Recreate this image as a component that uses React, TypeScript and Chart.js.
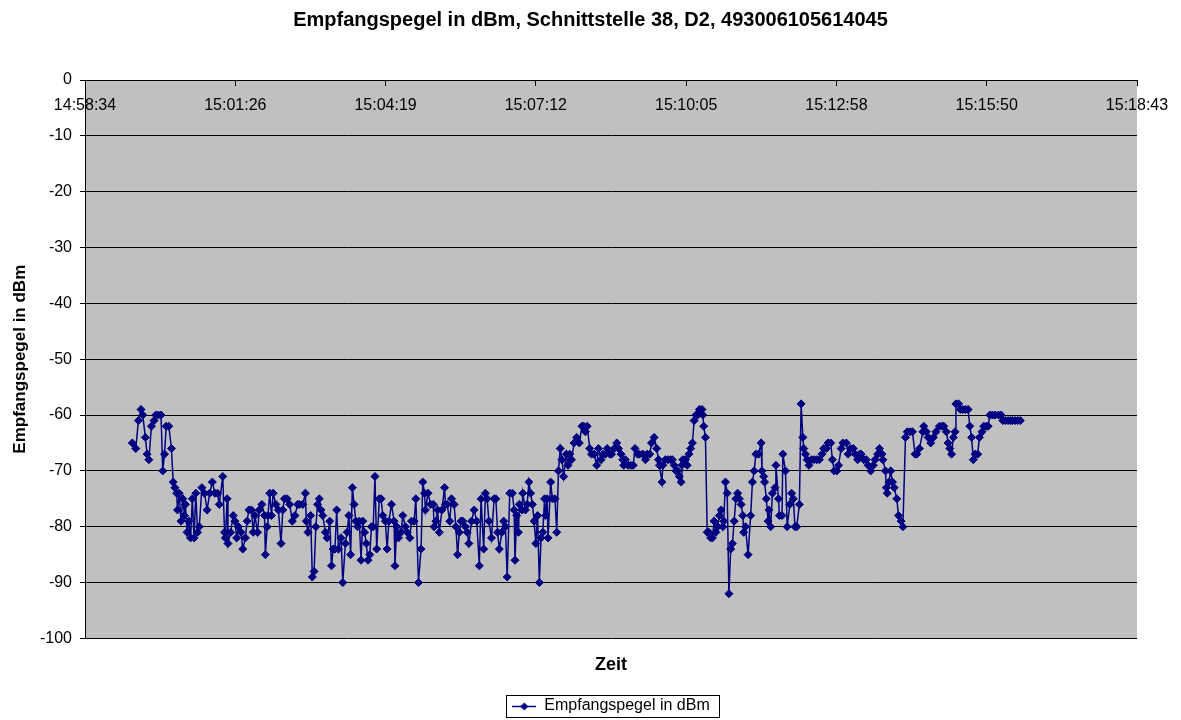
import React, { useEffect, useRef } from "react";
import { Chart, registerables } from "chart.js";

Chart.register(...registerables);

const chartTitle = "Empfangspegel in dBm, Schnittstelle 38, D2, 493006105614045";
const seriesName = "Empfangspegel in dBm";
const xAxisTitle = "Zeit";
const yAxisTitle = "Empfangspegel in dBm";

// time axis: 14:58:34 .. 15:18:43, major unit 0.002 day (172.8 s)
const xTickLabels = ["14:58:34", "15:01:26", "15:04:19", "15:07:12", "15:10:05", "15:12:58", "15:15:50", "15:18:43"];
const xAxisStartSec = -0.4; // 14:58:33.6 relative to 14:58:34
const xMajorUnitSec = 172.8;

// seconds elapsed since 14:58:34
const elapsedSeconds = [
  54, 58, 61, 64, 66, 69, 71, 73, 76, 79, 81, 84, 87, 89, 91, 93, 96, 99, 101, 103, 105, 106, 108, 110, 112, 114, 115, 117, 119, 121, 123, 125, 127, 129, 131, 134, 137, 140, 143, 146, 149,
  152, 154, 158, 160, 161, 163, 164, 167, 170, 172, 174, 176, 179, 181, 184, 186, 188, 191, 193, 195, 198, 200, 203, 206, 207, 209, 210, 212, 214, 216, 219, 222, 225, 227, 229, 232, 235, 238, 241, 244, 246, 250, 253,
  254, 256, 259, 261, 263, 265, 267, 269, 271, 273, 276, 278, 281, 283, 285, 287, 289, 291, 294, 296, 299, 301, 303, 305, 307, 309, 311, 313, 315, 317, 319, 321, 323, 325, 327, 329, 331, 333, 335, 338, 340, 342, 345, 347, 349, 352, 355, 356, 358,
  360, 363, 365, 368, 370, 373, 375, 378, 380, 383, 386, 388, 390, 391, 394, 397, 400, 401, 403, 405, 407, 410, 413, 414, 416, 419, 421, 424, 426, 428, 430, 432, 434, 437, 439, 441, 444, 447, 450, 453, 455, 458, 460, 462, 464,
  467, 470, 472, 474, 476, 479, 481, 483, 485, 488, 491, 493, 494, 496, 498, 499, 502, 503, 506, 508, 510, 512, 514, 516, 518, 520, 522, 524, 526, 528, 529, 531, 532, 535, 537, 540, 542, 544, 546, 548, 550, 553, 555, 557, 559, 562, 565,
  568, 571, 573, 575, 577, 580, 582, 585, 588, 590, 593, 595, 598, 600, 603, 605, 608, 611, 613, 616, 618, 619, 621, 624, 627, 630, 632, 635, 637, 641, 644, 646, 649, 651, 654, 657, 659, 660, 663, 664, 667,
  670, 673, 675, 677, 679, 681, 683, 685, 686, 687, 690, 692, 694, 696, 698, 700, 702, 704, 706, 709, 710, 711, 713, 715, 717, 719, 721, 723, 725, 727, 729, 731, 733, 734, 736, 738, 740, 742, 744, 746, 748, 750, 752, 754, 756, 757, 759, 762, 765, 767, 769, 771,
  774, 777, 778, 780, 781, 783, 785, 786, 788, 790, 793, 794, 797, 798, 801, 802, 805, 807, 810, 812, 814, 816, 818, 821, 823, 825, 826, 828, 830, 832, 835, 838, 841, 844, 847, 849, 852, 854, 857, 859, 861, 864, 866, 869, 871,
  875, 877, 880, 883, 885, 888, 890, 892, 895, 898, 900, 903, 906, 908, 911, 913, 916, 917, 920, 921, 922, 924, 926, 928, 930, 933, 935, 938, 940, 943, 945, 948, 951, 954, 956, 959, 963, 964, 967, 969, 972, 975, 978,
  982, 985, 987, 990, 992, 994, 996, 998, 1000, 1001, 1004, 1006, 1009, 1012, 1015, 1017, 1019, 1021, 1023, 1026, 1028, 1031, 1033, 1036, 1038, 1040, 1043, 1046, 1050, 1053, 1055, 1058, 1061, 1064, 1066, 1069, 1072, 1075,
];

// Empfangspegel in dBm
const levelDbm = [
  -65, -66, -61, -59, -60, -64, -67, -68, -62, -61, -60, -60, -60, -70, -67, -62, -62, -66, -72, -73, -74, -77, -74, -79, -75, -78, -76, -81, -79, -82, -75, -82, -74, -81, -80, -73, -74, -77, -74, -72, -74,
  -74, -76, -71, -81, -82, -75, -83, -81, -78, -79, -82, -80, -81, -84, -82, -79, -77, -77, -81, -78, -81, -77, -76, -78, -85, -80, -78, -74, -78, -74, -76, -77, -83, -77, -75, -75, -76, -79, -78, -76, -76, -76, -74,
  -79, -81, -78, -89, -88, -80, -76, -75, -77, -78, -81, -82, -79, -87, -84, -84, -77, -84, -82, -90, -83, -81, -78, -85, -73, -76, -79, -80, -79, -86, -79, -81, -83, -86, -85, -80, -80, -71, -84, -75, -75, -78, -79, -84, -79, -76, -79, -87, -80,
  -82, -81, -78, -80, -81, -82, -79, -79, -75, -90, -84, -72, -74, -77, -74, -76, -76, -80, -79, -77, -81, -77, -73, -76, -76, -79, -75, -76, -80, -85, -81, -79, -79, -80, -81, -83, -79, -77, -79, -87, -75, -84, -74, -75, -79,
  -82, -75, -75, -81, -84, -81, -79, -80, -89, -74, -74, -77, -86, -78, -81, -76, -77, -74, -77, -76, -72, -74, -76, -79, -83, -78, -90, -82, -81, -75, -78, -75, -82, -72, -75, -75, -81, -70, -66, -68, -71, -67, -69, -67, -68, -65, -64,
  -65, -62, -62, -63, -62, -66, -67, -67, -69, -66, -68, -67, -67, -66, -67, -67, -66, -65, -66, -67, -68, -69, -68, -69, -69, -69, -66, -67, -67, -67, -68, -67, -67, -65, -64, -66, -68, -69, -72, -69, -68,
  -68, -68, -68, -69, -70, -70, -71, -72, -69, -68, -68, -69, -67, -66, -65, -61, -60, -60, -59, -59, -60, -62, -64, -81, -81, -82, -82, -79, -81, -80, -78, -77, -80, -79, -72, -74, -92, -84, -83, -79, -75, -74, -75, -76, -78, -81, -80, -85, -78, -72, -70, -67,
  -67, -65, -70, -71, -72, -75, -79, -77, -80, -74, -73, -69, -75, -78, -78, -67, -70, -80, -76, -74, -75, -80, -80, -76, -58, -64, -66, -67, -68, -69, -68, -68, -68, -68, -67, -66, -66, -65, -65, -68, -70, -70, -69, -66, -65,
  -65, -67, -66, -66, -67, -68, -67, -67, -68, -68, -69, -70, -69, -68, -67, -66, -67, -68, -70, -73, -74, -72, -70, -72, -73, -75, -78, -79, -80, -64, -63, -63, -63, -67, -67, -66, -63, -62, -63, -64, -65, -64, -63,
  -62, -62, -62, -63, -65, -66, -67, -64, -63, -58, -58, -59, -59, -59, -59, -62, -64, -68, -67, -67, -64, -63, -62, -62, -62, -60, -60, -60, -60, -60, -61, -61, -61, -61, -61, -61, -61, -61,
];

const FONT = '"Liberation Sans", Arial, Helvetica, sans-serif';
const NAVY = "#000080";

function makeLegendSymbol(): HTMLCanvasElement {
  const c = document.createElement("canvas");
  c.width = 24;
  c.height = 10;
  const g = c.getContext("2d")!;
  g.strokeStyle = NAVY;
  g.lineWidth = 1.5;
  g.beginPath();
  g.moveTo(0, 5.5);
  g.lineTo(24, 5.5);
  g.stroke();
  g.fillStyle = NAVY;
  g.beginPath();
  g.moveTo(12, 1.5);
  g.lineTo(16, 5.5);
  g.lineTo(12, 9.5);
  g.lineTo(8, 5.5);
  g.closePath();
  g.fill();
  return c;
}

const plotDecor = {
  id: "plotDecor",
  beforeDraw(chart: any) {
    const { ctx, chartArea } = chart;
    ctx.save();
    ctx.fillStyle = "#C0C0C0";
    ctx.fillRect(chartArea.left, chartArea.top, chartArea.right - chartArea.left, chartArea.bottom - chartArea.top);
    ctx.restore();
  },
  afterDraw(chart: any) {
    const lg = chart.legend;
    const hb = lg && lg.legendHitBoxes && lg.legendHitBoxes[0];
    if (!hb) return;
    const { ctx } = chart;
    ctx.save();
    ctx.strokeStyle = "#000";
    ctx.lineWidth = 1;
    const x0 = Math.round(hb.left - 6) + 0.5;
    const y0 = Math.round(hb.top - 3) + 0.5;
    const x1 = Math.round(hb.left + hb.width + 9) + 0.5;
    const y1 = Math.round(hb.top + hb.height + 3) + 0.5;
    ctx.strokeRect(x0, y0, x1 - x0, y1 - y0);
    ctx.restore();
  },
};

export default function App() {
  const canvasRef = useRef<HTMLCanvasElement | null>(null);

  useEffect(() => {
    if (!canvasRef.current) return;
    const points = elapsedSeconds.map((t, i) => ({ x: t, y: levelDbm[i] }));
    const xMax = xAxisStartSec + xMajorUnitSec * (xTickLabels.length - 1);
    const chart = new Chart(canvasRef.current, {
      type: "line",
      data: {
        datasets: [
          {
            label: seriesName,
            data: points,
            xAxisID: "x",
            yAxisID: "y",
            borderColor: NAVY,
            backgroundColor: NAVY,
            borderWidth: 1.5,
            pointStyle: "rectRot",
            pointRadius: 4,
            pointBorderWidth: 1,
            pointBackgroundColor: NAVY,
            pointBorderColor: NAVY,
            tension: 0,
            fill: false,
          },
        ],
      },
      options: {
        responsive: false,
        maintainAspectRatio: false,
        devicePixelRatio: 1,
        animation: false,
        layout: { padding: { left: 0, right: 0, top: 0, bottom: -4 } },
        plugins: {
          title: {
            display: true,
            text: chartTitle,
            color: "#000",
            font: { family: FONT, size: 20, weight: "bold" },
            padding: { top: 8, bottom: 48 },
          },
          legend: {
            display: true,
            position: "bottom",
            fullSize: false,
            labels: {
              color: "#000",
              font: { family: FONT, size: 16 },
              usePointStyle: true,
              pointStyle: makeLegendSymbol() as any,
              pointStyleWidth: 24,
              padding: 6,
            },
          },
          tooltip: { enabled: false },
        },
        scales: {
          x: {
            type: "linear",
            position: { y: 0 } as any,
            min: xAxisStartSec,
            max: xMax,
            afterBuildTicks(scale: any) {
              scale.ticks = xTickLabels.map((_, i) => ({ value: xAxisStartSec + i * xMajorUnitSec }));
            },
            ticks: {
              autoSkip: false,
              maxRotation: 0,
              minRotation: 0,
              color: "#000",
              font: { family: FONT, size: 16 },
              padding: 11,
              callback: (_v: any, i: number) => xTickLabels[i],
            },
            grid: { display: true, drawOnChartArea: false, drawTicks: true, tickLength: 5, color: "#000" },
            border: { display: true, color: "#000", width: 1 },
          },
          x2: {
            type: "linear",
            axis: "x",
            position: "bottom",
            min: xAxisStartSec,
            max: xMax,
            ticks: { display: false },
            grid: { display: false, drawTicks: false },
            border: { display: false },
            title: {
              display: true,
              text: xAxisTitle,
              color: "#000",
              font: { family: FONT, size: 18, weight: "bold" },
              padding: { top: 16, bottom: 16 },
            },
          },
          y: {
            type: "linear",
            position: "left",
            min: -100,
            max: 0,
            ticks: {
              stepSize: 10,
              color: "#000",
              font: { family: FONT, size: 16 },
              padding: 8,
            },
            grid: { color: "#000", lineWidth: 1, drawTicks: true, tickLength: 5 },
            border: { display: true, color: "#000", width: 1 },
            title: {
              display: true,
              text: yAxisTitle,
              color: "#000",
              font: { family: FONT, size: 17, weight: "bold" },
              padding: { top: 10, bottom: 0 },
            },
            afterFit(scale: any) {
              scale.width = 85;
            },
          },
          yRight: {
            type: "linear",
            axis: "y",
            position: "right",
            min: -100,
            max: 0,
            ticks: { display: false },
            grid: { display: false, drawTicks: false },
            border: { display: false },
            afterFit(scale: any) {
              scale.width = 44;
            },
          },
        },
      } as any,
      plugins: [plotDecor],
    });
    return () => chart.destroy();
  }, []);

  return (
    <div style={{ position: "absolute", left: 0, top: 0, width: 1181, height: 720, background: "#fff" }}>
      <canvas ref={canvasRef} width={1181} height={720} style={{ display: "block", width: 1181, height: 720 }} />
    </div>
  );
}
